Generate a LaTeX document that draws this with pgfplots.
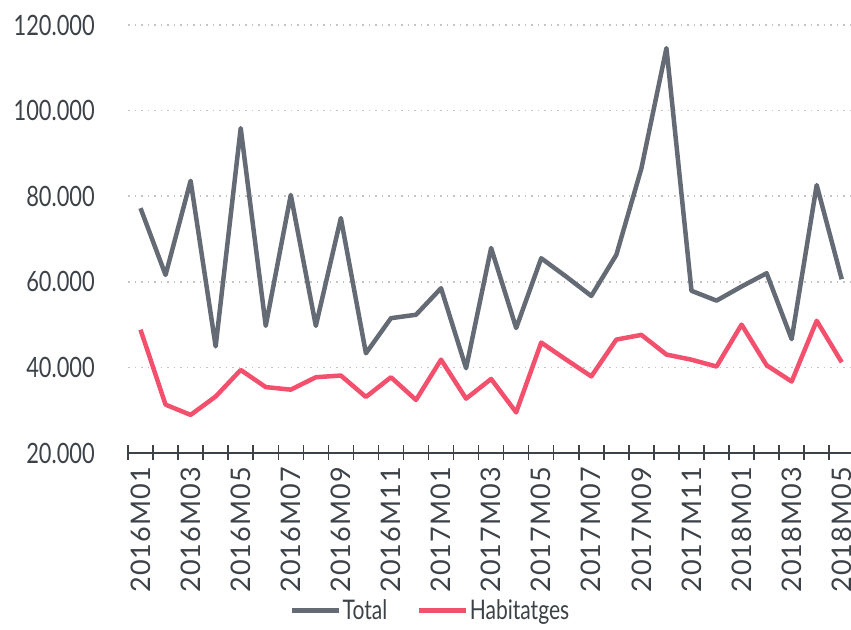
\documentclass[border=0pt]{standalone}
\usepackage{fontspec}
\setmainfont{Lato}
\newfontfamily\condfont[FakeStretch=0.78]{Lato}
\newfontfamily\widefont[LetterSpace=4]{Lato}
\usepackage{pgfplots}
\pgfplotsset{compat=1.18}
\usepackage{pgfplotstable}
\definecolor{totgray}{HTML}{646B74}
\definecolor{habpink}{HTML}{F2506D}
\definecolor{axisdark}{HTML}{3C4248}
\definecolor{gridc}{HTML}{C4C4C4}

\pgfplotstableread{
i total hab
0 77.2 48.8
1 61.6 31.3
2 83.6 28.9
3 44.9 33.2
4 95.9 39.4
5 49.7 35.4
6 80.3 34.8
7 49.7 37.7
8 74.9 38.1
9 43.3 33.1
10 51.5 37.7
11 52.3 32.4
12 58.5 41.8
13 39.8 32.7
14 67.9 37.3
15 49.2 29.5
16 65.5 45.8
17 61.2 41.8
18 56.7 37.9
19 66.3 46.5
20 86.5 47.6
21 114.6 43.0
22 57.9 41.8
23 55.6 40.2
24 58.9 50.0
25 62.0 40.5
26 46.6 36.7
27 82.6 50.9
28 60.6 41.2
}\data

\begin{document}
\begin{tikzpicture}[x=1pt,y=1pt]
\useasboundingbox (0,0) rectangle (851,629);
\begin{axis}[
 at={(128pt,176pt)}, anchor=south west,
 scale only axis, width=723pt, height=428pt,
 xmin=-0.5, xmax=28.37, ymin=20, ymax=120,
 axis lines*=left,
 y axis line style={draw=none},
 x axis line style={draw=axisdark, line width=2pt},
 xtick={0,2,...,28},
 xticklabels={2016M01,2016M03,2016M05,2016M07,2016M09,2016M11,2017M01,2017M03,2017M05,2017M07,2017M09,2017M11,2018M01,2018M03,2018M05},
 minor xtick={-0.5,0.5,...,28.5},
 major tick length=0pt,
 minor tick length=15pt,
 tick align=center,
 minor tick style={draw=axisdark, line width=1.5pt},
 ytick={20,40,60,80,100,120},
 yticklabels={20.000,40.000,60.000,80.000,100.000,120.000},
 ymajorgrids,
 grid style={draw=gridc, line width=1.5pt, dash pattern=on 1.5pt off 5pt},
 xticklabel style={yshift=-14pt, rotate=90, anchor=east, inner sep=0pt, font=\widefont\fontsize{27}{30}\selectfont, text=axisdark},
 yticklabel style={font=\condfont\fontsize{28}{30}\selectfont, text=axisdark, inner sep=0pt, xshift=-33pt},
 legend columns=2,
 legend style={draw=none, fill=none, at={(0.418,-0.368)}, anchor=center,
   font=\condfont\fontsize{27}{28}\selectfont, text=axisdark,
   nodes={inner xsep=1.5pt},
   /tikz/every even column/.append style={column sep=28pt}},
 legend image code/.code={\draw[#1, line width=4.5pt] (0pt,0pt) -- (47pt,0pt);},
]
\addplot[totgray, line width=4.5pt, line join=round] table[x=i, y=total] {\data};
\addlegendentry{Total}
\addplot[habpink, line width=4.5pt, line join=round] table[x=i, y=hab] {\data};
\addlegendentry{Habitatges}
\end{axis}
\end{tikzpicture}
\end{document}
